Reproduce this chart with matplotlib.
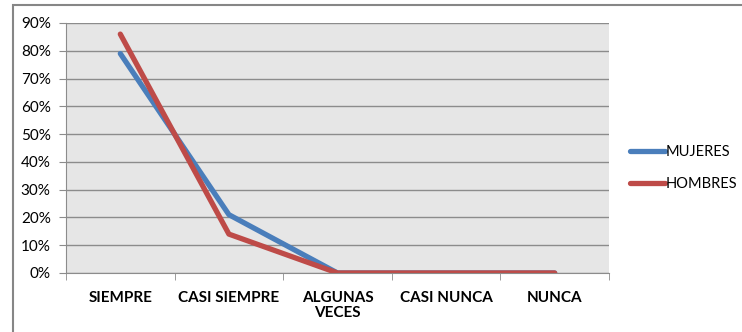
import matplotlib.pyplot as plt
from matplotlib.patches import Rectangle
from matplotlib.ticker import FixedLocator, PercentFormatter

categorias = ['SIEMPRE', 'CASI SIEMPRE', 'ALGUNAS\nVECES', 'CASI NUNCA', 'NUNCA']
mujeres = [79, 21, 0, 0, 0]
hombres = [86, 14, 0, 0, 0]

plt.rcParams['font.family'] = ['Lato', 'DejaVu Sans']

fig = plt.figure(figsize=(7.42, 3.32), dpi=100)
fig.patches.append(Rectangle((13 / 742, -0.1), 1.2, 1.1 - 5 / 332,
                             transform=fig.transFigure, fill=False,
                             edgecolor='#868686', linewidth=1.5))

ax = fig.add_axes([66 / 742, 1 - 273 / 332, (609 - 66) / 742, 250 / 332])
ax.set_facecolor('#e6e6e6')

x = range(len(categorias))
ax.plot(x, mujeres, color='#4a7ebb', linewidth=3.8, label='MUJERES', solid_capstyle='round')
ax.plot(x, hombres, color='#be4b48', linewidth=3.8, label='HOMBRES', solid_capstyle='round')

ax.set_xlim(-0.5, len(categorias) - 0.5)
ax.set_ylim(0, 90)
ax.set_yticks(range(0, 91, 10))
ax.yaxis.set_major_formatter(PercentFormatter(decimals=0))
ax.grid(axis='y', color='#8c8c8c', linewidth=1)
ax.set_axisbelow(True)

ax.set_xticks(list(x))
ax.set_xticklabels(categorias, fontweight='bold', fontsize=11, linespacing=1.1)
ax.xaxis.set_minor_locator(FixedLocator([i - 0.5 for i in range(len(categorias) + 1)]))
ax.tick_params(axis='x', which='major', length=0, pad=13)
ax.tick_params(axis='x', which='minor', length=5, color='#8c8c8c')
ax.tick_params(axis='y', length=5, color='#8c8c8c', labelsize=11, pad=6)

for lado in ['top', 'right']:
    ax.spines[lado].set_visible(False)
for lado in ['left', 'bottom']:
    ax.spines[lado].set_color('#8c8c8c')

fig.legend(loc='center left', bbox_to_anchor=(630 / 742, 1 - 168 / 332), frameon=False,
           fontsize=10.5, handlelength=2.4, handletextpad=0.05, labelspacing=1.25,
           borderpad=0, borderaxespad=0)

fig.savefig('out.png', dpi=100)
